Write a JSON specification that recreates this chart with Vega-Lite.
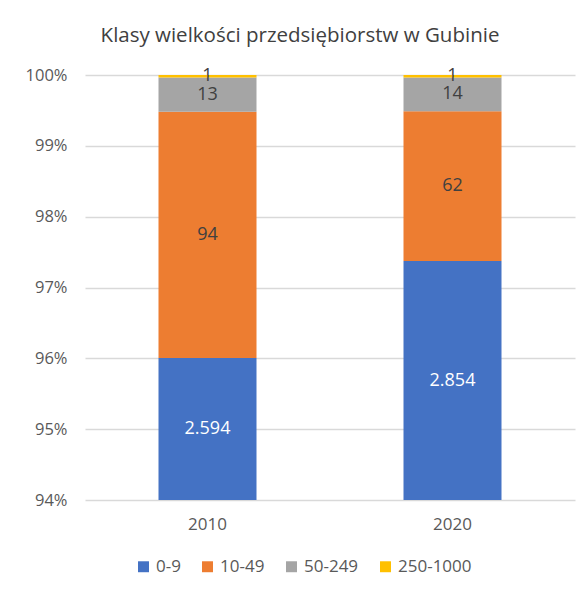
{
  "$schema": "https://vega.github.io/schema/vega-lite/v6.json",
  "width": 490,
  "height": 425,
  "autosize": {"type": "none"},
  "padding": {"left": 85, "top": 75, "right": 10, "bottom": 90},
  "background": "white",
  "config": {
    "font": "Open Sans",
    "view": {"stroke": null},
    "locale": {"number": {"decimal": ",", "thousands": ".", "grouping": [3], "currency": ["", " zł"]}}
  },
  "title": {
    "text": "Klasy wielkości przedsiębiorstw w Gubinie",
    "anchor": "middle",
    "dx": -30,
    "offset": 21,
    "fontSize": 20.5,
    "fontWeight": "normal",
    "color": "#404040"
  },
  "data": {
    "values": [
      {"year": "2010", "cat": "0-9", "order": 1, "value": 2594},
      {"year": "2010", "cat": "10-49", "order": 2, "value": 94},
      {"year": "2010", "cat": "50-249", "order": 3, "value": 13},
      {"year": "2010", "cat": "250-1000", "order": 4, "value": 1},
      {"year": "2020", "cat": "0-9", "order": 1, "value": 2854},
      {"year": "2020", "cat": "10-49", "order": 2, "value": 62},
      {"year": "2020", "cat": "50-249", "order": 3, "value": 14},
      {"year": "2020", "cat": "250-1000", "order": 4, "value": 1}
    ]
  },
  "transform": [
    {"stack": "value", "groupby": ["year"], "sort": [{"field": "order"}], "offset": "normalize", "as": ["v0", "v1"]},
    {"calculate": "(max(datum.v0, 0.94) + datum.v1) / 2", "as": "mid"}
  ],
  "encoding": {
    "x": {
      "field": "year",
      "type": "nominal",
      "scale": {"paddingInner": 0.6, "paddingOuter": 0.3},
      "axis": {
        "title": null,
        "labelAngle": 0,
        "ticks": false,
        "domain": false,
        "labelFontSize": 17,
        "labelColor": "#595959",
        "labelPadding": 16
      }
    }
  },
  "layer": [
    {
      "mark": {"type": "bar", "clip": true},
      "encoding": {
        "y": {
          "field": "v1",
          "type": "quantitative",
          "scale": {"domain": [0.94, 1], "zero": false, "nice": false},
          "axis": {
            "title": null,
            "format": ".0%",
            "values": [0.94, 0.95, 0.96, 0.97, 0.98, 0.99, 1.0],
            "domain": false,
            "ticks": false,
            "gridColor": "#d9d9d9",
            "gridWidth": 1.3,
            "labelFontSize": 16.5,
            "labelColor": "#595959",
            "labelPadding": 18
          }
        },
        "y2": {"field": "v0"},
        "color": {
          "field": "cat",
          "type": "nominal",
          "scale": {
            "domain": ["0-9", "10-49", "50-249", "250-1000"],
            "range": ["#4472C4", "#ED7D31", "#A5A5A5", "#FFC000"]
          },
          "legend": {
            "title": null,
            "orient": "none",
            "legendX": 50,
            "legendY": 483,
            "direction": "horizontal",
            "symbolType": "square",
            "symbolSize": 120,
            "symbolStrokeWidth": 0,
            "labelFontSize": 17,
            "labelColor": "#595959",
            "columnPadding": 18,
            "labelOffset": 4
          }
        }
      }
    },
    {
      "mark": {"type": "text", "fontSize": 18, "baseline": "middle"},
      "encoding": {
        "y": {"field": "mid", "type": "quantitative"},
        "text": {"field": "value", "type": "quantitative", "format": ",d"},
        "color": {
          "condition": {"test": "datum.cat === '0-9'", "value": "white"},
          "value": "#404040"
        }
      }
    }
  ]
}
